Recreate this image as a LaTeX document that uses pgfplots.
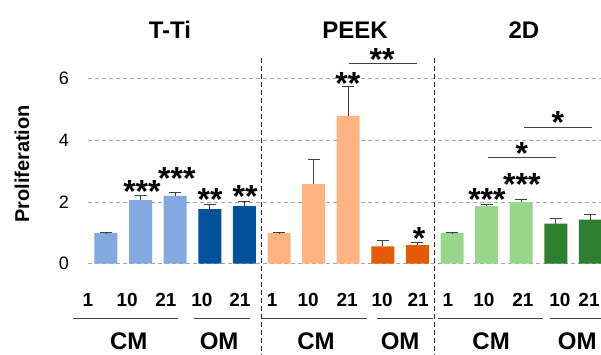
\documentclass[border=0pt]{standalone}
\usepackage{pgfplots}
\pgfplotsset{compat=1.18}
\usepackage{fontspec}
\setmainfont{Liberation Sans}

\definecolor{tiCM}{HTML}{82AAE0}
\definecolor{tiOM}{HTML}{00529B}
\definecolor{pkCM}{HTML}{FFB380}
\definecolor{pkOM}{HTML}{E35B05}
\definecolor{ddCM}{HTML}{98D68C}
\definecolor{ddOM}{HTML}{2E8030}

\tikzset{
  stars/.style={font=\fontsize{32}{32}\selectfont\bfseries, inner sep=0pt, anchor=north},
  grp/.style={font=\fontsize{24}{24}\selectfont\bfseries, inner sep=0pt},
  bracket/.style={line width=1.1pt, black!75},
}

\begin{document}
\begin{tikzpicture}
\begin{axis}[
  scale only axis, width=512.8pt, height=185.1pt,
  xmin=-0.52, xmax=14.3, ymin=0, ymax=6,
  clip=false,
  axis line style={draw=none},
  major tick length=0pt,
  ytick={0,2,4,6},
  ymajorgrids,
  grid style={gray!70, dash pattern=on 4pt off 3pt, line width=0.8pt},
  /pgf/number format/assume math mode=true,
  yticklabel style={font=\fontsize{18}{18}\selectfont, inner sep=0pt, xshift=-19pt},
  xtick={-0.52,0.61,1.73,2.77,3.87,4.80,5.84,6.97,7.98,9.02,9.88,10.92,12.05,13.12,13.96},
  xticklabels={1,10,21,10,21,1,10,21,10,21,1,10,21,10,21},
  xticklabel style={font=\fontsize{19}{19}\selectfont\bfseries, anchor=center, inner sep=0pt, yshift=-36pt},
  ybar, bar width=23pt,
  error bars/y dir=plus, error bars/y explicit,
  error bars/error bar style={line width=0.8pt, black!75},
  error bars/error mark options={rotate=90, mark size=6pt, line width=0.8pt, black!75},
]
% T-Ti
\addplot[fill=tiCM, draw=none, bar shift=0pt] coordinates {(0,1.00) +- (0,0.01) (1,2.06) +- (0,0.17) (2,2.20) +- (0,0.11)};
\addplot[fill=tiOM, draw=none, bar shift=0pt] coordinates {(3,1.77) +- (0,0.16) (4,1.87) +- (0,0.14)};
% PEEK
\addplot[fill=pkCM, draw=none, bar shift=0pt] coordinates {(5,1.00) +- (0,0.01) (6,2.58) +- (0,0.80) (7,4.79) +- (0,0.95)};
\addplot[fill=pkOM, draw=none, bar shift=0pt] coordinates {(8,0.56) +- (0,0.19) (9,0.60) +- (0,0.09)};
% 2D
\addplot[fill=ddCM, draw=none, bar shift=0pt] coordinates {(10,1.00) +- (0,0.01) (11,1.87) +- (0,0.06) (12,2.00) +- (0,0.09)};
\addplot[fill=ddOM, draw=none, bar shift=0pt] coordinates {(13,1.30) +- (0,0.17) (14,1.43) +- (0,0.17)};

% panel separators
\draw[black!85, line width=0.8pt, dash pattern=on 5pt off 3pt] (axis cs:4.5,6.67) -- (axis cs:4.5,-2.93);
\draw[black!85, line width=0.8pt, dash pattern=on 5pt off 3pt] (axis cs:9.5,6.67) -- (axis cs:9.5,-2.93);

% panel titles
\node[grp] at (axis cs:1.85,7.58) {T-Ti};
\node[grp] at (axis cs:7.2,7.58) {PEEK};
\node[grp] at (axis cs:12.08,7.58) {2D};

% y label
\node[rotate=90, font=\fontsize{20}{20}\selectfont\bfseries] at (rel axis cs:-0.1287,0.539) {Proliferation};

% medium groups
\draw[line width=1pt, black!75] (axis cs:-0.95,-1.76) -- (axis cs:2.08,-1.76);
\draw[line width=1pt, black!75] (axis cs:2.54,-1.76) -- (axis cs:4.16,-1.76);
\draw[line width=1pt, black!75] (axis cs:4.51,-1.76) -- (axis cs:7.54,-1.76);
\draw[line width=1pt, black!75] (axis cs:7.83,-1.76) -- (axis cs:9.45,-1.76);
\draw[line width=1pt, black!75] (axis cs:9.60,-1.76) -- (axis cs:12.63,-1.76);
\draw[line width=1pt, black!75] (axis cs:12.83,-1.76) -- (axis cs:14.6,-1.76);
\node[grp] at (axis cs:0.66,-2.50) {CM};
\node[grp] at (axis cs:3.27,-2.50) {OM};
\node[grp] at (axis cs:6.07,-2.50) {CM};
\node[grp] at (axis cs:8.50,-2.50) {OM};
\node[grp] at (axis cs:11.13,-2.50) {CM};
\node[grp] at (axis cs:13.62,-2.50) {OM};

% significance
\node[stars] at (axis cs:1.04,2.71) {***};
\node[stars] at (axis cs:2.05,3.13) {***};
\node[stars] at (axis cs:3.01,2.45) {**};
\node[stars] at (axis cs:4.02,2.55) {**};
\node[stars] at (axis cs:6.99,6.21) {**};
\draw[bracket] (axis cs:7.02,6.50) -- (axis cs:8.99,6.50);
\node[stars] at (axis cs:7.98,6.99) {**};
\node[stars] at (axis cs:9.05,1.19) {*};
\node[stars] at (axis cs:11.01,2.45) {***};
\node[stars] at (axis cs:12.02,2.94) {***};
\draw[bracket] (axis cs:11.04,3.43) -- (axis cs:13.00,3.43);
\node[stars] at (axis cs:12.02,3.94) {*};
\draw[bracket] (axis cs:12.08,4.42) -- (axis cs:14.05,4.42);
\node[stars] at (axis cs:13.06,4.95) {*};
\end{axis}
\pgfresetboundingbox
\path[use as bounding box] (-88pt,-90.3pt) rectangle (513pt,263.7pt);
\end{tikzpicture}
\end{document}
